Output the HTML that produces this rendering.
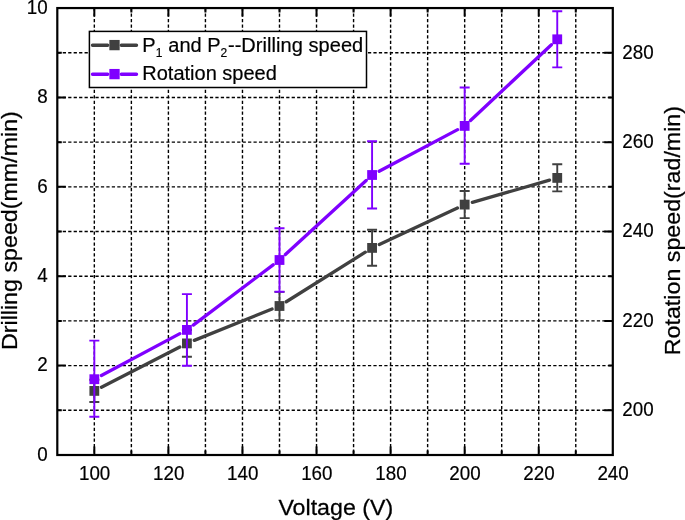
<!DOCTYPE html>
<html><head><meta charset="utf-8"><title>Drilling speed and rotation speed vs voltage</title>
<style>html,body{margin:0;padding:0;background:#fff}svg{display:block}</style></head>
<body>
<svg width="685" height="520" viewBox="0 0 685 520" font-family="Liberation Sans, Arial, Helvetica, sans-serif">
<rect x="0" y="0" width="685" height="520" fill="#fff"/>
<path d="M94.33 8.05 V455.0 M131.37 8.05 V455.0 M168.40 8.05 V455.0 M205.43 8.05 V455.0 M242.47 8.05 V455.0 M279.50 8.05 V455.0 M316.53 8.05 V455.0 M353.57 8.05 V455.0 M390.60 8.05 V455.0 M427.63 8.05 V455.0 M464.67 8.05 V455.0 M501.70 8.05 V455.0 M538.73 8.05 V455.0 M575.77 8.05 V455.0 M57.3 410.31 H612.8 M57.3 365.61 H612.8 M57.3 320.92 H612.8 M57.3 276.22 H612.8 M57.3 231.53 H612.8 M57.3 186.83 H612.8 M57.3 142.13 H612.8 M57.3 97.44 H612.8 M57.3 52.75 H612.8" fill="none" stroke="#000" stroke-width="1.4" stroke-dasharray="3.25 2.2"/>
<path d="M94.33 455.0 v-8.5 M94.33 8.05 v8.5 M131.37 455.0 v-4.5 M131.37 8.05 v4.5 M168.40 455.0 v-8.5 M168.40 8.05 v8.5 M205.43 455.0 v-4.5 M205.43 8.05 v4.5 M242.47 455.0 v-8.5 M242.47 8.05 v8.5 M279.50 455.0 v-4.5 M279.50 8.05 v4.5 M316.53 455.0 v-8.5 M316.53 8.05 v8.5 M353.57 455.0 v-4.5 M353.57 8.05 v4.5 M390.60 455.0 v-8.5 M390.60 8.05 v8.5 M427.63 455.0 v-4.5 M427.63 8.05 v4.5 M464.67 455.0 v-8.5 M464.67 8.05 v8.5 M501.70 455.0 v-4.5 M501.70 8.05 v4.5 M538.73 455.0 v-8.5 M538.73 8.05 v8.5 M575.77 455.0 v-4.5 M575.77 8.05 v4.5 M57.3 410.31 h4.5 M612.8 410.31 h-8.5 M57.3 365.61 h8.5 M612.8 365.61 h-4.5 M57.3 320.92 h4.5 M612.8 320.92 h-8.5 M57.3 276.22 h8.5 M612.8 276.22 h-4.5 M57.3 231.53 h4.5 M612.8 231.53 h-8.5 M57.3 186.83 h8.5 M612.8 186.83 h-4.5 M57.3 142.13 h4.5 M612.8 142.13 h-8.5 M57.3 97.44 h8.5 M612.8 97.44 h-4.5 M57.3 52.75 h4.5 M612.8 52.75 h-8.5" fill="none" stroke="#000" stroke-width="2"/>
<rect x="57.3" y="8.05" width="555.5" height="446.95" fill="none" stroke="#000" stroke-width="2.2"/>
<path d="M94.33 379.8 V402.0 M89.33 379.8 h10 M89.33 402.0 h10 M186.92 330.0 V356.8 M181.92 330.0 h10 M181.92 356.8 h10 M279.50 291.9 V320.1 M274.50 291.9 h10 M274.50 320.1 h10 M372.08 229.8 V265.8 M367.08 229.8 h10 M367.08 265.8 h10 M464.67 191.0 V218.1 M459.67 191.0 h10 M459.67 218.1 h10 M557.25 164.2 V191.4 M552.25 164.2 h10 M552.25 191.4 h10" fill="none" stroke="#404040" stroke-width="1.9"/>
<path d="M101.45 387.25 L179.80 347.05 M194.33 340.40 L272.08 309.00 M286.28 301.75 L365.31 252.15 M379.33 244.51 L457.42 207.99 M472.35 202.38 L549.56 180.12" fill="none" stroke="#404040" stroke-width="3.3" stroke-linecap="round"/>
<rect x="89.43" y="386.00" width="9.8" height="9.8" fill="#404040"/>
<rect x="182.02" y="338.50" width="9.8" height="9.8" fill="#404040"/>
<rect x="274.60" y="301.10" width="9.8" height="9.8" fill="#404040"/>
<rect x="367.18" y="243.00" width="9.8" height="9.8" fill="#404040"/>
<rect x="459.77" y="199.70" width="9.8" height="9.8" fill="#404040"/>
<rect x="552.35" y="173.00" width="9.8" height="9.8" fill="#404040"/>
<path d="M94.33 340.6 V416.8 M89.33 340.6 h10 M89.33 416.8 h10 M186.92 294.1 V365.7 M181.92 294.1 h10 M181.92 365.7 h10 M279.50 228.2 V291.7 M274.50 228.2 h10 M274.50 291.7 h10 M372.08 141.3 V208.5 M367.08 141.3 h10 M367.08 208.5 h10 M464.67 87.5 V163.7 M459.67 87.5 h10 M459.67 163.7 h10 M557.25 11.3 V67.4 M552.25 11.3 h10 M552.25 67.4 h10" fill="none" stroke="#7f00ff" stroke-width="1.9"/>
<path d="M101.39 375.44 L179.86 333.66 M193.30 325.08 L273.12 264.82 M285.39 254.59 L366.19 180.41 M379.15 171.25 L457.60 129.65 M470.51 120.44 L551.41 44.76" fill="none" stroke="#7f00ff" stroke-width="3.3" stroke-linecap="round"/>
<rect x="89.43" y="374.30" width="9.8" height="9.8" fill="#7f00ff"/>
<rect x="182.02" y="325.00" width="9.8" height="9.8" fill="#7f00ff"/>
<rect x="274.60" y="255.10" width="9.8" height="9.8" fill="#7f00ff"/>
<rect x="367.18" y="170.10" width="9.8" height="9.8" fill="#7f00ff"/>
<rect x="459.77" y="121.00" width="9.8" height="9.8" fill="#7f00ff"/>
<rect x="552.35" y="34.40" width="9.8" height="9.8" fill="#7f00ff"/>
<g font-size="19.6" fill="#000" stroke="#000" stroke-width="0.2">
<text transform="translate(94.63 480.2) scale(0.96 1)" text-anchor="middle">100</text>
<text transform="translate(168.70 480.2) scale(0.96 1)" text-anchor="middle">120</text>
<text transform="translate(242.77 480.2) scale(0.96 1)" text-anchor="middle">140</text>
<text transform="translate(316.83 480.2) scale(0.96 1)" text-anchor="middle">160</text>
<text transform="translate(390.90 480.2) scale(0.96 1)" text-anchor="middle">180</text>
<text transform="translate(464.97 480.2) scale(0.96 1)" text-anchor="middle">200</text>
<text transform="translate(539.03 480.2) scale(0.96 1)" text-anchor="middle">220</text>
<text transform="translate(613.10 480.2) scale(0.96 1)" text-anchor="middle">240</text>
<text transform="translate(47.6 460.50) scale(0.96 1)" text-anchor="end">0</text>
<text transform="translate(47.6 371.31) scale(0.96 1)" text-anchor="end">2</text>
<text transform="translate(47.6 281.97) scale(0.96 1)" text-anchor="end">4</text>
<text transform="translate(47.6 193.33) scale(0.96 1)" text-anchor="end">6</text>
<text transform="translate(47.6 102.94) scale(0.96 1)" text-anchor="end">8</text>
<text transform="translate(47.6 13.70) scale(0.96 1)" text-anchor="end">10</text>
<text transform="translate(622.3 416.20) scale(0.96 1)">200</text>
<text transform="translate(622.3 326.96) scale(0.96 1)">220</text>
<text transform="translate(622.3 237.22) scale(0.96 1)">240</text>
<text transform="translate(622.3 147.69) scale(0.96 1)">260</text>
<text transform="translate(622.3 59.25) scale(0.96 1)">280</text>
</g>
<text transform="translate(335.8 515) scale(1.04 1)" font-size="22.3" text-anchor="middle" fill="#000" stroke="#000" stroke-width="0.25">Voltage (V)</text>
<text transform="translate(17.2 230.6) rotate(-90) scale(1.043 1)" font-size="22.3" text-anchor="middle" fill="#000" stroke="#000" stroke-width="0.25">Drilling speed(mm/min)</text>
<text transform="translate(680.3 230.6) rotate(-90) scale(1.042 1)" font-size="22.3" text-anchor="middle" fill="#000" stroke="#000" stroke-width="0.25">Rotation speed(rad/min)</text>
<rect x="89.4" y="31.4" width="277.1" height="56.1" fill="#fff" stroke="#000" stroke-width="1.5"/>
<path d="M92.5 45.2 H107.7 M121.3 45.2 H136.5" stroke="#404040" stroke-width="3.4" stroke-linecap="round" fill="none"/>
<rect x="109.35" y="39.95" width="10.3" height="10.3" fill="#404040"/>
<path d="M92.5 74.2 H107.7 M121.3 74.2 H136.5" stroke="#7f00ff" stroke-width="3.4" stroke-linecap="round" fill="none"/>
<rect x="109.35" y="68.95" width="10.3" height="10.3" fill="#7f00ff"/>
<text x="142.3" y="51.5" font-size="20" fill="#000" stroke="#000" stroke-width="0.2">P<tspan font-size="12" dy="5.3">1</tspan><tspan dy="-5.3" dx="0.4"> and P</tspan><tspan font-size="12" dy="5.3">2</tspan><tspan dy="-5.3" dx="0.7" letter-spacing="0.05">--Drilling speed</tspan></text>
<text x="142.3" y="80.4" font-size="20" fill="#000" stroke="#000" stroke-width="0.2">Rotation speed</text>
</svg>
</body></html>
